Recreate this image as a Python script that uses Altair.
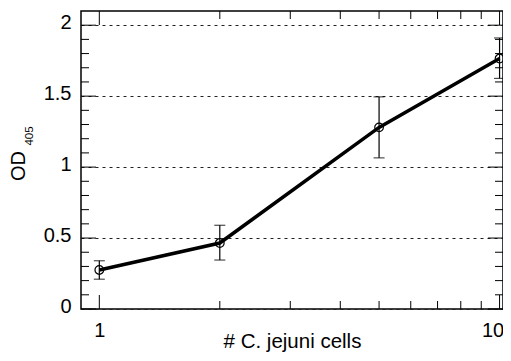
import altair as alt
import pandas as pd

# Data
cells = [1, 2, 5, 10]
od405 = [0.275, 0.465, 1.28, 1.765]
err_low = [0.21, 0.345, 1.065, 1.625]
err_high = [0.34, 0.59, 1.495, 1.91]

# Axis tick positions
x_major = [1, 10]
x_minor = [2, 3, 4, 5, 6, 7, 8, 9]
y_major = [0, 0.5, 1.0, 1.5, 2.0]
y_minor = [0.1, 0.2, 0.3, 0.4, 0.6, 0.7, 0.8, 0.9, 1.1, 1.2, 1.3, 1.4,
           1.6, 1.7, 1.8, 1.9]

# Axis title pieces
y_title_main = ["OD"]
y_title_sub = ["405"]
x_title = "# C. jejuni cells"

W, H = 422, 298
FONT = "Liberation Sans"

df = pd.DataFrame({"cells": cells, "od": od405, "lo": err_low, "hi": err_high})
dx_major = pd.DataFrame({"cells": x_major})
dx_minor = pd.DataFrame({"cells": x_minor})
dy_major = pd.DataFrame({"od": y_major})
dy_minor = pd.DataFrame({"od": y_minor})

xs = alt.Scale(type="log", domain=[0.9, 10.2], nice=False)
ys = alt.Scale(domain=[0, 2.1], nice=False, zero=False)

x_axis = alt.Axis(values=x_major, format="~g", grid=False, ticks=False, tickSize=0,
                  domain=False, labelFont=FONT, labelFontSize=20, labelColor="black",
                  labelPadding=11, labelBaseline="top",
                  labelOffset={"condition": {"test": "datum.value >= 10", "value": -7},
                               "value": 0},
                  title=x_title, titleFont=FONT, titleFontSize=20.5,
                  titleFontWeight="normal", titleColor="black", titleY=38, titleX=211,
                  titleBaseline="alphabetic")
y_axis = alt.Axis(values=y_major, format="~g", grid=True, gridDash=[3, 4],
                  gridColor="#222222", gridWidth=1, ticks=False, tickSize=0,
                  domain=False, labelFont=FONT, labelFontSize=20, labelColor="black",
                  labelPadding=10, labelOffset=-3, title=None)


def X(field):
    return alt.X(field, scale=xs, axis=x_axis, title=x_title)


def Y(field):
    return alt.Y(field, scale=ys, axis=y_axis, title=None)


line = alt.Chart(df).mark_line(color="black", strokeWidth=3.5).encode(
    x=X("cells:Q"), y=Y("od:Q"))

errs = alt.Chart(df).mark_rule(color="black", strokeWidth=1.2).encode(
    x=X("cells:Q"), y=Y("lo:Q"), y2="hi:Q")
cap_lo = alt.Chart(df).mark_tick(color="black", orient="horizontal", size=11,
                                 thickness=1.2).encode(x=X("cells:Q"), y=Y("lo:Q"))
cap_hi = alt.Chart(df).mark_tick(color="black", orient="horizontal", size=11,
                                 thickness=1.2).encode(x=X("cells:Q"), y=Y("hi:Q"))
pts = alt.Chart(df).mark_point(shape="circle", filled=False, color="black",
                               size=75, strokeWidth=1.2, opacity=1).encode(
    x=X("cells:Q"), y=Y("od:Q"))


def xticks(d, length):
    bottom = alt.Chart(d).mark_rule(color="black", strokeWidth=1).encode(
        x=X("cells:Q"), y=alt.value(H), y2=alt.value(H - length))
    top = alt.Chart(d).mark_rule(color="black", strokeWidth=1).encode(
        x=X("cells:Q"), y=alt.value(0), y2=alt.value(length))
    return [bottom, top]


def yticks(d, length):
    left = alt.Chart(d).mark_rule(color="black", strokeWidth=1).encode(
        y=Y("od:Q"), x=alt.value(0), x2=alt.value(length))
    right = alt.Chart(d).mark_rule(color="black", strokeWidth=1).encode(
        y=Y("od:Q"), x=alt.value(W), x2=alt.value(W - length))
    return [left, right]


t_main = alt.Chart(pd.DataFrame({"t": y_title_main})).mark_text(
    font=FONT, fontSize=20, angle=270, align="center", baseline="alphabetic",
    color="black").encode(text="t:N", x=alt.value(-56), y=alt.value(155))
t_sub = alt.Chart(pd.DataFrame({"t": y_title_sub})).mark_text(
    font=FONT, fontSize=11.5, angle=270, align="center", baseline="alphabetic",
    color="black").encode(text="t:N", x=alt.value(-48), y=alt.value(125))

layers = ([line] + xticks(dx_major, 14) + xticks(dx_minor, 8)
          + yticks(dy_major, 15) + yticks(dy_minor, 8)
          + [errs, cap_lo, cap_hi, pts, t_main, t_sub])

chart = alt.layer(*layers).properties(
    width=W, height=H,
    autosize=alt.AutoSizeParams(type="none"),
    padding={"left": 73, "top": 3, "right": 0, "bottom": 44},
    background="white",
).configure_view(stroke="black", strokeWidth=1.5)

chart.save("out.html", embed_options={"renderer": "svg", "actions": False})
